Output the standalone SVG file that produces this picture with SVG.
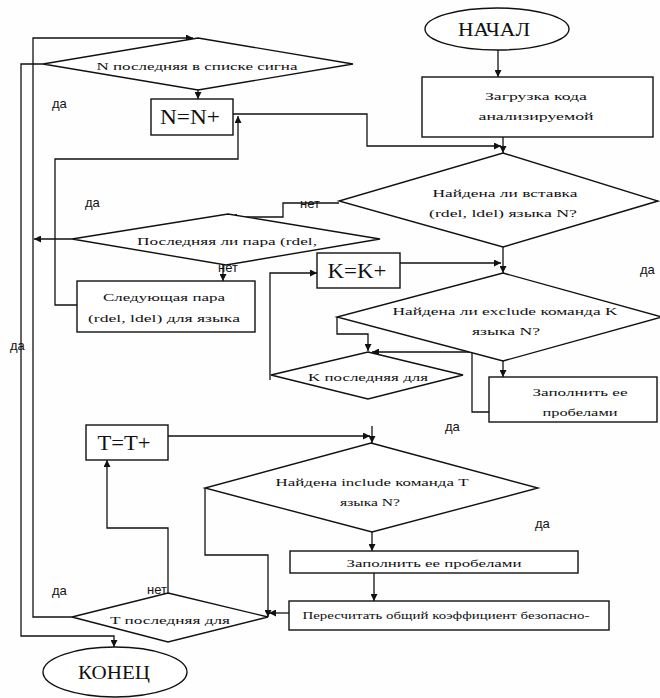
<svg xmlns="http://www.w3.org/2000/svg" width="660" height="698" viewBox="0 0 660 698">
<style>
.sh{fill:#ffffff;stroke:#111;stroke-width:1.4}
.ln{fill:none;stroke:#111;stroke-width:1.3}
.t{font-family:"Liberation Serif","Times New Roman",serif;font-size:11px;fill:#111;text-anchor:middle}
.b{font-family:"Liberation Serif","Times New Roman",serif;font-size:21px;fill:#111;text-anchor:middle}
.e{font-family:"Liberation Serif","Times New Roman",serif;font-size:18px;fill:#111;text-anchor:middle}
.l{font-family:"Liberation Sans",Arial,sans-serif;font-size:13px;fill:#111}
</style>
<defs>
<marker id="ar" viewBox="0 0 10 10" refX="10" refY="5" markerWidth="7" markerHeight="7" markerUnits="userSpaceOnUse" orient="auto">
<path d="M0,0 L10,5 L0,10 z" fill="#111"/>
</marker>
</defs>
<rect width="660" height="698" fill="#fefefe"/>

<g id="connectors">
<path class="ln" marker-end="url(#ar)" d="M498,50 V77"/>
<path class="ln" marker-end="url(#ar)" d="M503,137 V153"/>
<path class="ln" marker-end="url(#ar)" d="M233,114 H367 V146 H501"/>
<path class="ln" marker-end="url(#ar)" d="M339,203 H283 V217 H230"/>
<path class="ln" marker-end="url(#ar)" d="M503,247 V273"/>
<path class="ln" marker-end="url(#ar)" d="M400,263 H501"/>
<path class="ln" marker-end="url(#ar)" d="M337,317 V334 H368 V351"/>
<path class="ln" marker-end="url(#ar)" d="M503,361 V377"/>
<path class="ln" marker-end="url(#ar)" d="M489,412 H472 V352 H372"/>
<path class="ln" marker-end="url(#ar)" d="M270,380 V273 H317"/>
<path class="ln" marker-end="url(#ar)" d="M372,426 V443"/>
<path class="ln" marker-end="url(#ar)" d="M168,436 H370"/>
<path class="ln" marker-end="url(#ar)" d="M372,532 V551"/>
<path class="ln" marker-end="url(#ar)" d="M205,488 V555 H268 V617"/>
<path class="ln" marker-end="url(#ar)" d="M374,573 V601"/>
<path class="ln" marker-end="url(#ar)" d="M289,613 H269"/>
<path class="ln" marker-end="url(#ar)" d="M168,593 V528 H107 V460"/>
<path class="ln" marker-end="url(#ar)" d="M72,617 H33 V38 H193"/>
<path class="ln" marker-end="url(#ar)" d="M43,64 H21 V636 H114 V647"/>
<path class="ln" marker-end="url(#ar)" d="M198,90 V99"/>
<path class="ln" marker-end="url(#ar)" d="M72,239 H34"/>
<path class="ln" marker-end="url(#ar)" d="M223,265 V281"/>
<path class="ln" marker-end="url(#ar)" d="M77,305 H55 V159 H238 V116"/>
</g>

<g id="start">
<ellipse class="sh" cx="497" cy="29" rx="72" ry="21"/>
<text class="e" x="494" y="36" textLength="72" lengthAdjust="spacingAndGlyphs">НАЧАЛ</text>
</g>

<g id="load">
<rect class="sh" x="422" y="77" width="231" height="60"/>
<text class="t" x="536" y="100" textLength="102" lengthAdjust="spacingAndGlyphs">Загрузка кода</text>
<text class="t" x="536" y="120" textLength="115" lengthAdjust="spacingAndGlyphs">анализируемой</text>
</g>

<g id="n-last">
<polygon class="sh" points="198,38 353,64 198,90 43,64"/>
<text class="t" x="197" y="70" textLength="201" lengthAdjust="spacingAndGlyphs">N последняя в списке сигна</text>
</g>

<g id="n-inc">
<rect class="sh" x="151" y="99" width="82" height="36"/>
<text class="b" x="190" y="124" textLength="60" lengthAdjust="spacingAndGlyphs">N=N+</text>
</g>

<g id="insert-found">
<polygon class="sh" points="503,153 658,201 503,247 339,201"/>
<text class="t" x="505" y="197" textLength="145" lengthAdjust="spacingAndGlyphs">Найдена ли вставка</text>
<text class="t" x="503" y="217" textLength="148" lengthAdjust="spacingAndGlyphs">(rdel, ldel) языка N?</text>
</g>

<g id="pair-last">
<polygon class="sh" points="228,214 380,239 226,265 72,239"/>
<text class="t" x="227" y="245" textLength="180" lengthAdjust="spacingAndGlyphs">Последняя ли пара (rdel,</text>
</g>

<g id="next-pair">
<rect class="sh" x="77" y="281" width="178" height="51"/>
<text class="t" x="164" y="301" textLength="122" lengthAdjust="spacingAndGlyphs">Следующая пара</text>
<text class="t" x="164" y="322" textLength="152" lengthAdjust="spacingAndGlyphs">(rdel, ldel) для языка</text>
</g>

<g id="k-inc">
<rect class="sh" x="317" y="253" width="83" height="35"/>
<text class="b" x="357" y="278" textLength="59" lengthAdjust="spacingAndGlyphs">K=K+</text>
</g>

<g id="exclude-found">
<polygon class="sh" points="503,273 662,317 503,361 337,317"/>
<text class="t" x="505" y="315" textLength="225" lengthAdjust="spacingAndGlyphs">Найдена ли exclude команда K</text>
<text class="t" x="506" y="335" textLength="68" lengthAdjust="spacingAndGlyphs">языка N?</text>
</g>

<g id="k-last">
<polygon class="sh" points="368,352 463,375 368,399 271,375"/>
<text class="t" x="368" y="381" textLength="120" lengthAdjust="spacingAndGlyphs">K последняя для</text>
</g>

<g id="fill1">
<rect class="sh" x="489" y="377" width="168" height="45"/>
<text class="t" x="580" y="396" textLength="95" lengthAdjust="spacingAndGlyphs">Заполнить ее</text>
<text class="t" x="580" y="416" textLength="75" lengthAdjust="spacingAndGlyphs">пробелами</text>
</g>

<g id="t-inc">
<rect class="sh" x="86" y="425" width="82" height="35"/>
<text class="b" x="124" y="450" textLength="53" lengthAdjust="spacingAndGlyphs">T=T+</text>
</g>

<g id="include-found">
<polygon class="sh" points="371,443 538,488 372,532 205,488"/>
<text class="t" x="372" y="486" textLength="193" lengthAdjust="spacingAndGlyphs">Найдена include команда T</text>
<text class="t" x="370" y="506" textLength="60" lengthAdjust="spacingAndGlyphs">языка N?</text>
</g>

<g id="fill2">
<rect class="sh" x="290" y="551" width="288" height="22"/>
<text class="t" x="434" y="567" textLength="175" lengthAdjust="spacingAndGlyphs">Заполнить ее пробелами</text>
</g>

<g id="recalc">
<rect class="sh" x="289" y="601" width="320" height="29"/>
<text class="t" x="446" y="619" font-size="10" textLength="287" lengthAdjust="spacingAndGlyphs">Пересчитать общий коэффициент безопасно-</text>
</g>

<g id="t-last">
<polygon class="sh" points="168,593 268,617 168,642 72,617"/>
<text class="t" x="170" y="624" textLength="120" lengthAdjust="spacingAndGlyphs">T последняя для</text>
</g>

<g id="end">
<ellipse class="sh" cx="115" cy="672" rx="72" ry="25"/>
<text class="e" x="114" y="679" textLength="72" lengthAdjust="spacingAndGlyphs">КОНЕЦ</text>
</g>

<g id="labels">
<text class="l" x="52" y="108">да</text>
<text class="l" x="85" y="207">да</text>
<text class="l" x="300" y="208">нет</text>
<text class="l" x="218" y="272">нет</text>
<text class="l" x="640" y="274">да</text>
<text class="l" x="10" y="350">да</text>
<text class="l" x="445" y="431">да</text>
<text class="l" x="535" y="528">да</text>
<text class="l" x="52" y="595">да</text>
<text class="l" x="147" y="594">нет</text>
</g>
</svg>
